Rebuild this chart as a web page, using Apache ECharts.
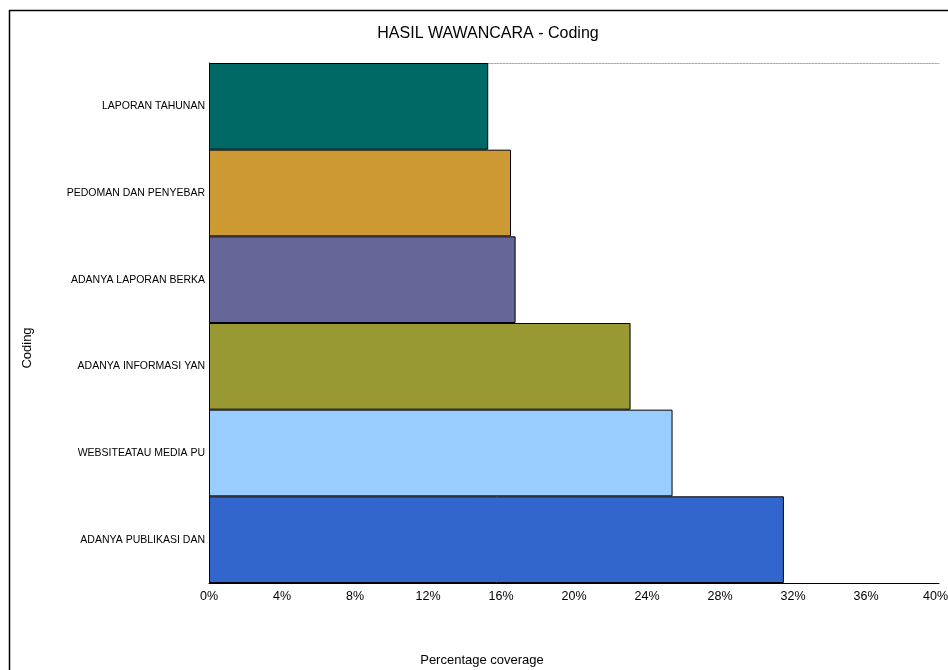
<!DOCTYPE html>
<html>
<head>
<meta charset="utf-8">
<script src="https://cdn.jsdelivr.net/npm/echarts@6/dist/echarts.min.js"></script>
<style>html,body{margin:0;padding:0;background:#fff}#c{width:948px;height:670px}</style>
</head>
<body>
<div id="c"></div>
<script>
const categories = ["LAPORAN TAHUNAN","PEDOMAN DAN PENYEBAR","ADANYA LAPORAN BERKA","ADANYA INFORMASI YAN","WEBSITEATAU MEDIA PU","ADANYA PUBLIKASI DAN"];
const values = [15.3, 16.55, 16.8, 23.1, 25.4, 31.5];
const colors = ["#006966","#CC9933","#666699","#999933","#99CCFF","#3366CC"];
const xTicks = [0,4,8,12,16,20,24,28,32,36,40];

const chart = echarts.init(document.getElementById('c'));
const font = 'Liberation Sans, Arial, sans-serif';
chart.setOption({
  animation: false,
  backgroundColor: '#fff',
  title: {
    text: 'HASIL WAWANCARA - Coding',
    left: 483, top: 21, textAlign: 'center',
    textStyle: {fontFamily: font, fontSize: 16, fontWeight: 'normal', color: '#000'}
  },
  graphic: [
    {type: 'line', shape: {x1: 9.5, y1: 10, x2: 9.5, y2: 670}, style: {stroke: '#000', lineWidth: 1.5}},
    {type: 'line', shape: {x1: 9, y1: 10.5, x2: 948, y2: 10.5}, style: {stroke: '#000', lineWidth: 1.5}},
    {type: 'text', x: 27, y: 348, rotation: Math.PI/2, style: {text: 'Coding', font: '13px ' + font, fill: '#000', align: 'center', verticalAlign: 'middle'}},
    {type: 'text', x: 482, y: 660, style: {text: 'Percentage coverage', font: '13px ' + font, fill: '#000', align: 'center', verticalAlign: 'middle'}}
  ],
  grid: {left: 209, right: 9, top: 63, bottom: 87, containLabel: false, outerBoundsMode: 'none'},
  xAxis: [{
    type: 'value', min: 0, max: 40, interval: 4,
    axisLine: {show: true, lineStyle: {color: '#000', width: 1}},
    axisTick: {show: false},
    splitLine: {show: false},
    axisLabel: {
      fontFamily: font, fontSize: 12.5, color: '#000', margin: 7,
      formatter: v => v === xTicks[xTicks.length - 1] ? '{r|' + v + '%}' : v + '%',
      rich: {r: {fontFamily: font, fontSize: 12.5, color: '#000', padding: [0, 7, 0, 0]}}
    }
  }, {
    type: 'value', position: 'top', min: 0, max: 40, interval: 4,
    axisLine: {show: true, lineStyle: {color: '#aaa', width: 1, type: [2,1]}},
    axisTick: {show: false}, axisLabel: {show: false}, splitLine: {show: false}
  }],
  yAxis: {
    type: 'category', data: categories, inverse: true,
    axisLine: {show: true, lineStyle: {color: '#000'}},
    axisTick: {show: false},
    axisLabel: {fontFamily: font, fontSize: 10.5, color: '#000', margin: 4}
  },
  series: [{
    type: 'bar', xAxisIndex: 0,
    data: values.map((v, i) => ({value: v, itemStyle: {color: colors[i]}})),
    barCategoryGap: 0,
    itemStyle: {borderColor: '#000', borderWidth: 1},
    z: 3
  }]
});
</script>
</body>
</html>
